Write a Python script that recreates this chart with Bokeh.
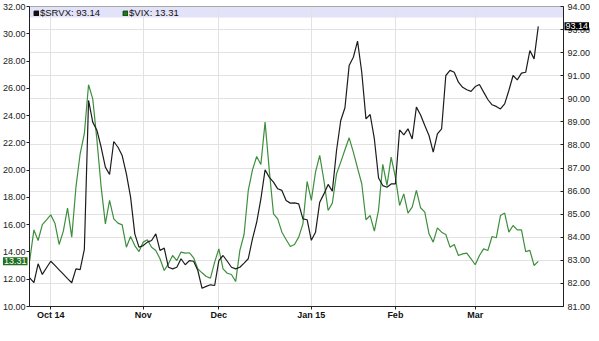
from bokeh.plotting import figure
from bokeh.models import (Range1d, LinearAxis, FixedTicker, NumeralTickFormatter, Grid,
                          BoxAnnotation, Label, Legend, LegendItem)
from bokeh.embed import file_html
from bokeh.resources import INLINE

# $SRVX (right axis) daily closes, Sep 24 2014 .. Mar 2015
srvx = [82.24, 82.03, 82.85, 82.39, 82.68, 82.96, 82.78, 82.59, 82.40, 82.21,
        82.03, 82.63, 82.60, 83.48, 89.93, 88.99, 88.63, 87.90, 87.04, 86.72,
        88.15, 87.90, 87.54, 86.75, 85.74, 84.15, 83.57, 83.64, 83.79, 83.86,
        84.15, 83.43, 83.53, 82.70, 82.63, 82.70, 83.07, 82.81, 82.99, 82.96,
        82.56, 81.79, 81.87, 81.94, 81.91, 82.99, 83.21, 82.96, 82.70, 82.63,
        82.70, 82.88, 83.07, 83.93, 84.65, 85.66, 86.92, 86.60, 86.39, 86.10,
        86.03, 85.59, 85.48, 85.49, 85.45, 84.80, 84.76, 83.87, 84.22, 85.52,
        85.88, 86.29, 86.00, 87.76, 89.06, 89.61, 91.44, 91.80, 92.50, 91.15,
        89.13, 89.32, 88.26, 86.57, 86.24, 86.17, 86.31, 86.31, 88.65, 88.44,
        88.70, 88.26, 89.64, 89.30, 88.84, 88.41, 87.69, 88.48, 88.70, 91.01,
        91.23, 91.15, 90.72, 90.50, 90.39, 90.32, 90.53, 90.62, 90.29, 89.97,
        89.74, 89.67, 89.56, 89.78, 90.36, 91.01, 90.82, 91.11, 91.15, 92.09,
        91.73, 93.14]

# $VIX (left axis)
vix = [13.37, 15.62, 14.84, 16.01, 16.36, 16.72, 16.11, 14.55, 15.53, 17.21,
       15.09, 18.75, 21.20, 22.67, 26.26, 25.23, 22.18, 18.75, 16.06, 17.78,
       16.43, 16.11, 15.99, 14.35, 15.13, 14.47, 14.03, 14.72, 14.89, 14.35,
       14.11, 13.50, 12.64, 13.13, 13.74, 13.37, 13.99, 13.91, 13.94, 13.57,
       12.76, 12.47, 12.20, 12.08, 13.25, 14.23, 12.76, 12.44, 12.35, 11.83,
       14.11, 15.28, 18.51, 20.02, 21.00, 20.42, 23.52, 19.98, 16.80, 16.43,
       15.45, 14.91, 14.40, 14.55, 15.09, 16.06, 19.17, 17.78, 19.85, 21.08,
       19.24, 17.04, 17.58, 19.73, 20.59, 21.49, 22.37, 21.32, 20.15, 19.00,
       16.36, 16.67, 15.53, 17.09, 20.42, 18.88, 20.95, 19.49, 17.41, 18.26,
       16.85, 17.29, 18.51, 17.24, 16.92, 15.33, 14.72, 15.77, 15.45, 15.28,
       14.35, 14.55, 13.74, 13.86, 13.91, 13.50, 13.06, 13.74, 14.23, 14.11,
       15.13, 15.04, 16.67, 16.85, 15.45, 15.94, 15.62, 15.62, 14.03, 14.11,
       13.01, 13.31]

month_idx = [5, 27, 45, 67, 87, 106]
month_labels = ["Oct 14", "Nov", "Dec", "Jan 15", "Feb", "Mar"]
vix_ticks = list(range(10, 33, 2))
srvx_ticks = list(range(81, 95))

idx = list(range(len(srvx)))

FONT = "Liberation Sans"
GRID = "#e2e2e2"
AX = "#222222"

# plot-area limits (data units) and page margins (px) around the plot area
X0, X1 = -0.05, 127.0
L0, L1 = vix_ticks[0], vix_ticks[-1]
R0, R1 = srvx_ticks[0], srvx_ticks[-1]
W, H = 599, 341
ML, MR, MT, MB = 29, 36, 6, 35
fw, fh = W - ML - MR, H - MT - MB
kx = (X1 - X0) / fw
kl = (L1 - L0) / fh
kr = (R1 - R0) / fh

p = figure(width=W, height=H, output_backend="svg", toolbar_location=None,
           x_range=Range1d(X0 - ML * kx, X1 + MR * kx),
           y_range=Range1d(L0 - MB * kl, L1 + MT * kl),
           min_border=0, min_border_left=0, min_border_right=0,
           min_border_top=0, min_border_bottom=0)
p.extra_y_ranges = {"right": Range1d(R0 - MB * kr, R1 + MT * kr)}
p.background_fill_color = "white"
p.border_fill_color = "white"
p.outline_line_color = None

# bottom axis
xa = p.xaxis[0]
xa.fixed_location = L0
xa.bounds = (X0, X1)
xa.ticker = FixedTicker(ticks=month_idx)
xa.major_label_overrides = {i: l for i, l in zip(month_idx, month_labels)}
xa.major_label_text_font = FONT
xa.major_label_text_font_size = "9px"
xa.major_label_text_font_style = "bold"
xa.major_label_text_color = "#111111"
xa.major_tick_out = 3
xa.major_tick_in = 0
xa.minor_tick_out = 0
xa.minor_tick_in = 0
xa.major_label_standoff = 0
xa.axis_line_color = AX
xa.major_tick_line_color = AX

# left axis (VIX)
ya = p.yaxis[0]
ya.fixed_location = X0
ya.bounds = (L0, L1)
ya.ticker = FixedTicker(ticks=vix_ticks)
ya.formatter = NumeralTickFormatter(format="0.00")
ya.major_label_text_font = FONT
ya.major_label_text_font_size = "9px"
ya.major_label_text_color = AX
ya.major_tick_out = 3
ya.major_tick_in = 0
ya.minor_tick_out = 0
ya.minor_tick_in = 0
ya.major_label_standoff = 1
ya.axis_line_color = AX
ya.major_tick_line_color = AX

# right axis (SRVX)
ra = LinearAxis(y_range_name="right", ticker=FixedTicker(ticks=srvx_ticks),
                formatter=NumeralTickFormatter(format="0.00"))
ra.fixed_location = X1
ra.bounds = (R0, R1)
ra.major_label_text_font = FONT
ra.major_label_text_font_size = "9px"
ra.major_label_text_color = AX
ra.major_tick_out = 0
ra.major_tick_in = 3
ra.minor_tick_out = 0
ra.minor_tick_in = 0
ra.major_label_standoff = 4
ra.axis_line_color = AX
ra.major_tick_line_color = AX
p.add_layout(ra, "right")

# grids
p.ygrid.visible = False
p.xgrid.ticker = FixedTicker(ticks=month_idx)
p.xgrid.grid_line_color = GRID
rgrid = Grid(dimension=1, ticker=FixedTicker(ticks=srvx_ticks), y_range_name="right",
             grid_line_color=GRID)
try:
    p.xgrid.cross_bounds = (L0, L1)
    rgrid.cross_bounds = (X0, X1)
except AttributeError:
    pass
p.add_layout(rgrid, "center")

# legend band and plot-area border
p.add_layout(BoxAnnotation(left=X0, right=X1, bottom=L1 - 0.8, top=L1, fill_color="#e2e2f8",
                           fill_alpha=1, line_alpha=0, level="image"))
p.add_layout(BoxAnnotation(left=X0, right=X1, bottom=L0, top=L1, fill_alpha=0,
                           line_color=AX, line_width=1))

# lines
p.line(idx, vix, color="#3d8f3d", line_width=1.2)
p.line(idx, srvx, y_range_name="right", color="#1c1c1c", line_width=1.2)

# legend (swatches from quad renderers that draw nothing on the plot)
nan = [float("nan")]
r1 = p.quad(left=nan, right=nan, top=nan, bottom=nan, fill_color="#111111", line_color="#000000")
r2 = p.quad(left=nan, right=nan, top=nan, bottom=nan, fill_color="#1f7a1f", line_color="#0b3d0b")
legend = Legend(items=[LegendItem(label=f"$SRVX: {srvx[-1]:.2f}", renderers=[r1]),
                       LegendItem(label=f"$VIX: {vix[-1]:.2f}", renderers=[r2])],
                location=(ML + 4, fh + MB - 12), orientation="horizontal",
                label_text_font=FONT, label_text_font_size="9.5px", label_text_color="#111111",
                glyph_width=6, glyph_height=6, label_height=10, label_standoff=1,
                spacing=22, padding=0, margin=0,
                border_line_alpha=0, background_fill_alpha=0)
p.add_layout(legend)

# last-value tags
p.add_layout(Label(x=X0, y=vix[-1], text=f"{vix[-1]:.2f}", x_offset=-2,
                   text_align="right", text_baseline="middle", text_color="white",
                   text_font=FONT, text_font_size="9px", level="overlay",
                   background_fill_color="#1f6f1f", padding=1))
p.add_layout(Label(x=X1, y=srvx[-1], y_range_name="right", text=f"{srvx[-1]:.2f}",
                   x_offset=1, text_align="left", text_baseline="middle", text_color="white",
                   text_font=FONT, text_font_size="9px", level="overlay",
                   background_fill_color="#000000", padding=1))

open("out.html", "w").write(file_html(p, INLINE))
